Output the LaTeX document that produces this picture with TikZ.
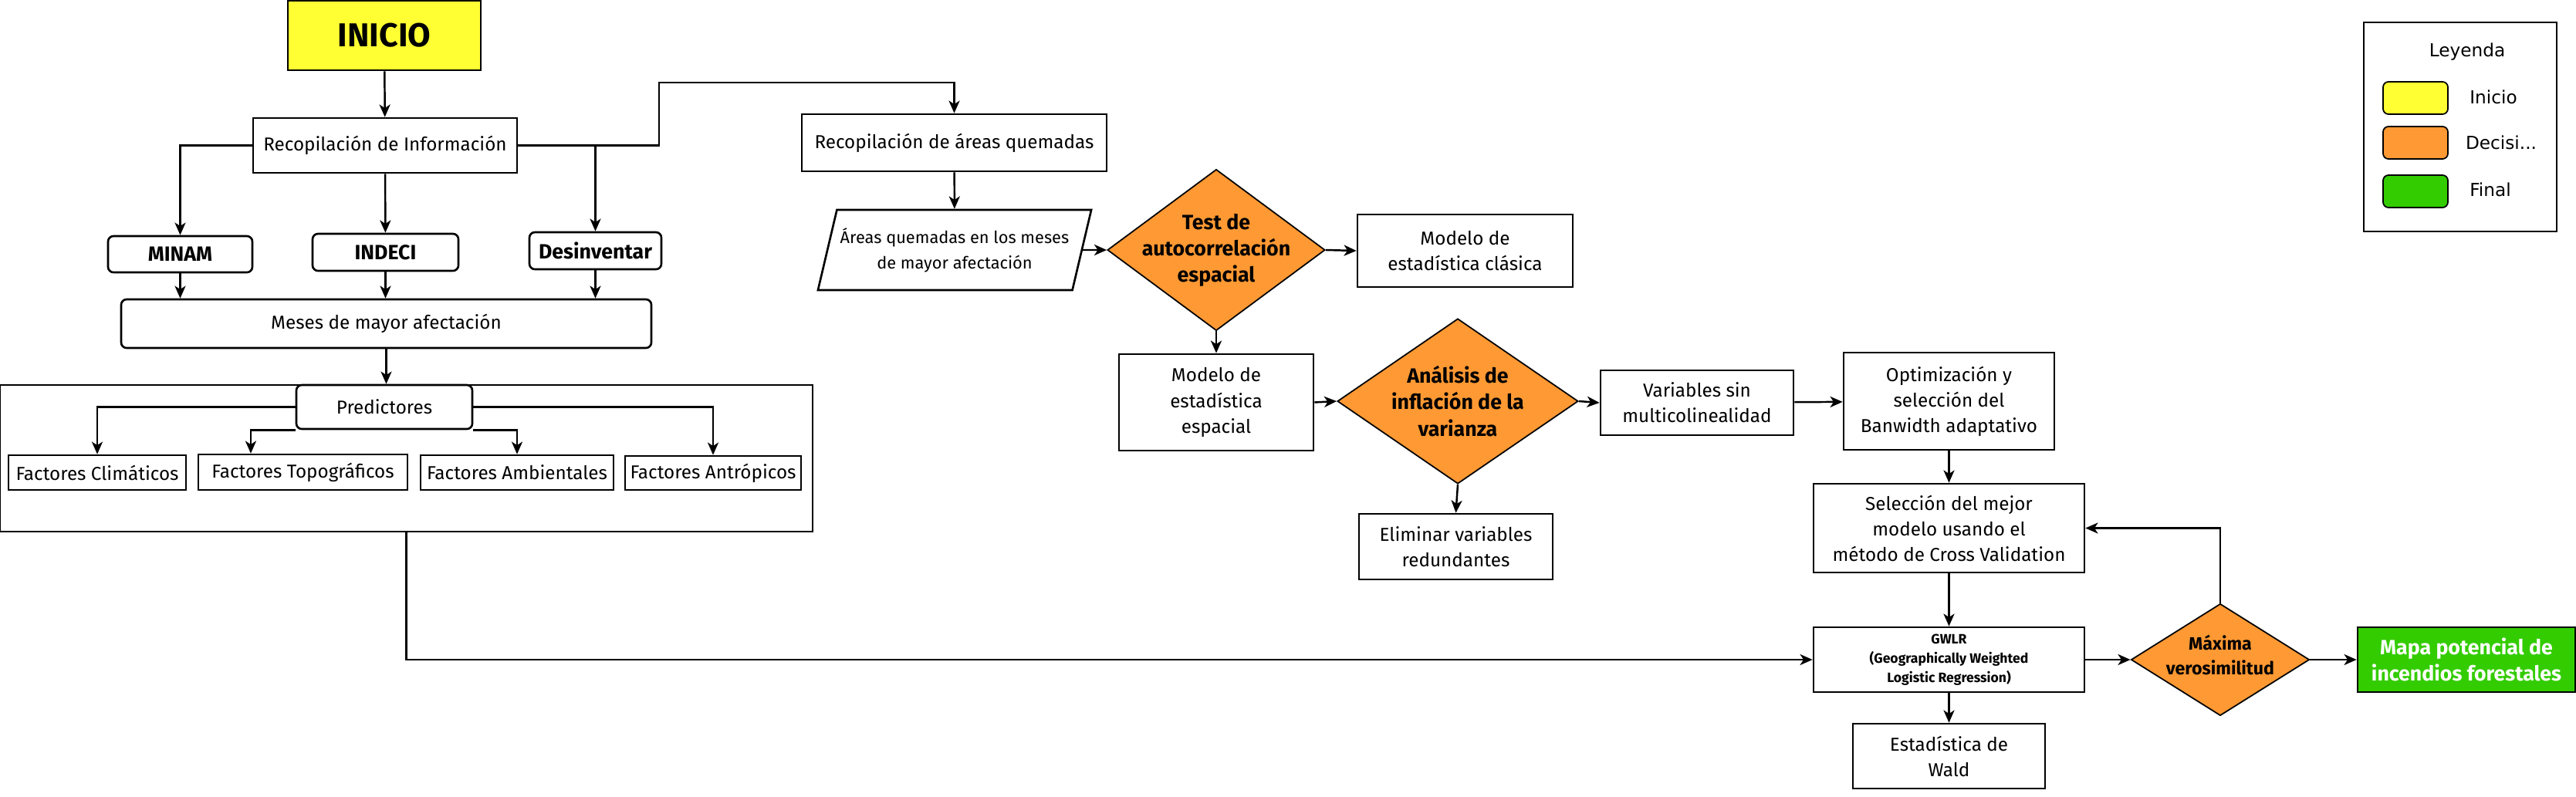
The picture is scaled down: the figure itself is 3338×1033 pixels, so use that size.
\documentclass[tikz,border=0pt]{standalone}
\usepackage{fontspec}
\setmainfont{Fira Sans}
\newfontfamily\leyfont{DejaVu Sans}
\usetikzlibrary{arrows.meta,shapes.geometric}

\definecolor{amarillo}{HTML}{FFFF33}
\definecolor{naranja}{HTML}{FF9933}
\definecolor{verde}{HTML}{33CC00}

\newcommand\fsinicio{\fontsize{12.2}{14}\selectfont\bfseries}
\newcommand\fsnormal{\fontsize{6.9}{9.4}\selectfont}
\newcommand\fschico{\fontsize{6.2}{9.4}\selectfont}
\newcommand\fsneg{\fontsize{7.6}{9.7}\selectfont\bfseries}
\newcommand\fsgwlr{\fontsize{5}{7.1}\selectfont\bfseries}
\newcommand\fsley{\leyfont\fontsize{6.6}{8}\selectfont}

\tikzset{
  caja/.style={draw, line width=0.75pt, inner sep=1pt, align=center, font=\fsnormal},
  redonda/.style={caja, rounded corners=2pt},
  dim/.style 2 args={minimum width=#1*0.01cm, minimum height=#2*0.01cm},
  decision/.style={draw, diamond, fill=naranja, line width=0.5pt, inner sep=0pt},
  rotulo/.style={font=\fsneg, align=center},
  flecha/.style={line width=0.7pt, -{Stealth[length=4.6pt,width=4pt,inset=1.3pt]}},
}

\begin{document}
\begin{tikzpicture}[x=0.01cm, y=-0.01cm]
\useasboundingbox (0,0) rectangle (3338,1033);

% columna de informacion
\node[caja, dim={250}{90}, fill=amarillo, font=\fsinicio] (inicio) at (498,46) {INICIO};
\node[caja, dim={342}{71}] (recinfo) at (499,188.5) {Recopilación de Información};
\node[redonda, dim={187}{47}, font=\fsneg] (minam) at (233.5,329.5) {MINAM};
\node[redonda, dim={189}{48}, font=\fsneg] (indeci) at (499.5,327) {INDECI};
\node[redonda, dim={171}{48}, font=\fsneg] (desinv) at (771.5,325) {Desinventar};
\node[redonda, dim={687}{63}] (meses) at (500.5,419.5) {Meses de mayor afectación};
\node[caja, dim={1053}{190}] (marco) at (526.5,594) {};
\node[redonda, dim={228}{57}, fill=white] (pred) at (498,527.5) {Predictores};
\node[caja, dim={230}{45}] (fclim) at (126,612.5) {Factores Climáticos};
\node[caja, dim={271}{46}] (ftopo) at (392.5,612) {Factores Topográficos};
\node[caja, dim={250}{45}] (famb) at (670,612.5) {Factores Ambientales};
\node[caja, dim={228}{44}] (fantr) at (924,613) {Factores Antrópicos};
\coordinate (quiebre) at (854,107);

% areas quemadas y modelos
\node[caja, dim={395}{74}] (recareas) at (1236.5,185) {Recopilación de áreas quemadas};
\node[caja, trapezium, trapezium left angle=67.5, trapezium right angle=112.5,
  trapezium stretches=true, dim={355}{104}, inner sep=0pt, font=\fschico] (areas) at (1237,324)
  {Áreas quemadas en los meses\\de mayor afectación};
\node[decision, dim={282}{209}, label={[rotulo]center:Test de\\autocorrelación\\espacial}] (test) at (1576,324) {};
\node[caja, dim={279}{94}] (clasica) at (1898.5,325) {Modelo de\\estadística clásica};
\node[caja, dim={252}{125}] (espacial) at (1576,521.5) {Modelo de\\estadística\\espacial};
\node[decision, dim={312}{214}, label={[rotulo]center:Análisis de\\inflación de la\\varianza}] (vif) at (1889,520) {};
\node[caja, dim={250}{84}] (sinmult) at (2199,522) {Variables sin\\multicolinealidad};
\node[caja, dim={251}{85}] (elim) at (1886.5,708.5) {Eliminar variables\\redundantes};
\node[caja, dim={273}{126}] (optim) at (2525.5,520) {Optimización y\\selección del\\Banwidth adaptativo};
\node[caja, dim={351}{115}] (selec) at (2525.5,684.5) {Selección del mejor\\modelo usando el\\método de Cross Validation};
\node[caja, dim={351}{84}, font=\fsgwlr] (gwlr) at (2525.5,855) {GWLR\\(Geographically Weighted\\Logistic Regression)};
\node[caja, dim={249}{84}] (wald) at (2525.5,980) {Estadística de\\Wald};
\node[decision, dim={231}{145}, label={[rotulo, font=\fontsize{6.6}{9.2}\selectfont\bfseries, yshift=0.06cm]center:Máxima\\verosimilitud}] (maxver) at (2877,855) {};
\node[caja, dim={282}{84}, fill=verde, text=white, font=\fsneg] (mapa) at (3196,855) {Mapa potencial de\\incendios forestales};

% leyenda
\node[caja, dim={250}{271}] (leyenda) at (3188,164.5) {};
\node[font=\fsley] (leytit) at (3197,67) {Leyenda};
\node[draw, rounded corners=2pt, line width=0.5pt, fill=amarillo, dim={84}{42}] (sw1) at (3130,127) {};
\node[draw, rounded corners=2pt, line width=0.5pt, fill=naranja, dim={84}{42}] (sw2) at (3130,185) {};
\node[draw, rounded corners=2pt, line width=0.5pt, fill=verde, dim={84}{42}] (sw3) at (3130,248) {};
\node[font=\fsley] (ley1) at (3231,126) {Inicio};
\node[font=\fsley] (ley2) at (3241,185) {Decisi...};
\node[font=\fsley] (ley3) at (3227,246) {Final};

% conectores
\draw[flecha] (inicio) -- (recinfo);
\draw[flecha] (recinfo.west) -| (minam.north);
\draw[flecha] (recinfo) -- (indeci);
\draw[flecha] (recinfo.east) -| (desinv.north);
\draw[flecha] (recinfo.east) -| (quiebre) -| (recareas.north);
\draw[flecha] (minam) -- (minam |- meses.north);
\draw[flecha] (indeci) -- (indeci |- meses.north);
\draw[flecha] (desinv) -- (desinv |- meses.north);
\draw[flecha] (meses.south) -- (meses.south |- pred.north);
\draw[flecha] (pred.west) -| (fclim.north);
\draw[flecha] (pred.south west) -| ([xshift=-0.675cm]ftopo.north);
\draw[flecha] (pred.south east) -| (famb.north);
\draw[flecha] (pred.east) -| (fantr.north);
\draw[flecha] (marco.south) |- (gwlr.west);
\draw[flecha] (recareas) -- (areas);
\draw[flecha] (areas.east) -- (test.west);
\draw[flecha] (test.east) -- (clasica.west);
\draw[flecha] (test.south) -- (espacial.north);
\draw[flecha] (espacial.east) -- (vif.west);
\draw[flecha] (vif.east) -- (sinmult.west);
\draw[flecha] (vif.south) -- (elim.north);
\draw[flecha] (sinmult) -- (optim);
\draw[flecha] (optim) -- (selec);
\draw[flecha] (selec) -- (gwlr);
\draw[flecha] (gwlr) -- (wald);
\draw[flecha] (gwlr.east) -- (maxver.west);
\draw[flecha] (maxver.east) -- (mapa.west);
\draw[flecha] (maxver.north) |- (selec.east);
\end{tikzpicture}
\end{document}
